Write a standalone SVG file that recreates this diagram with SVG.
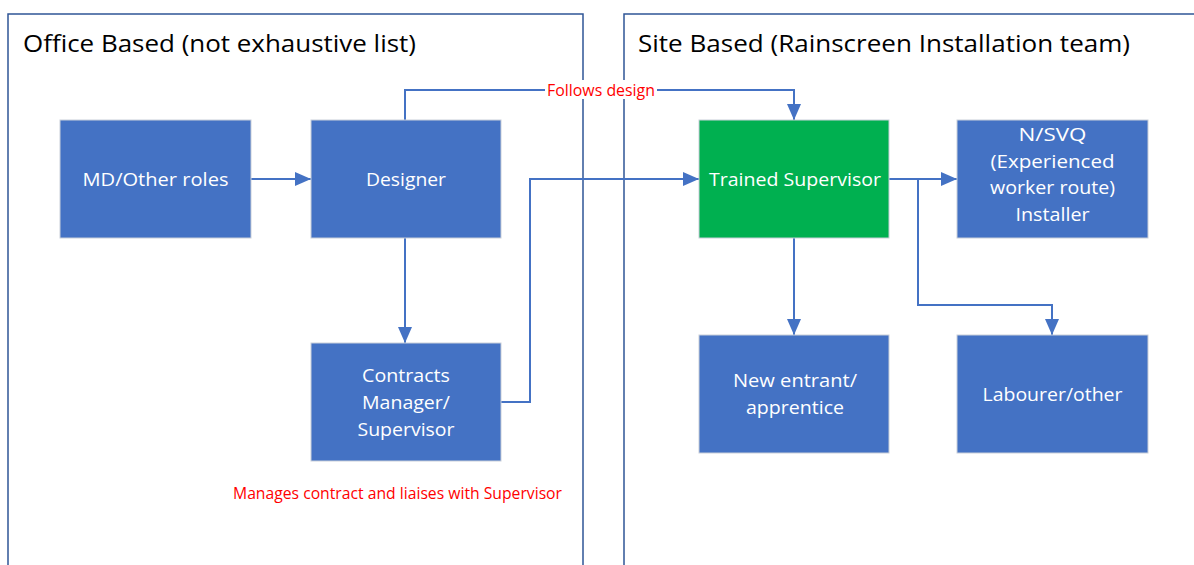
<svg xmlns="http://www.w3.org/2000/svg" width="1194" height="565" viewBox="0 0 1194 565">
<style>
.panel{fill:none;stroke:#2F5597;stroke-width:1.5}
.title{font-family:"Open Sans","Liberation Sans",sans-serif;font-size:23.5px;fill:#000}
.box{fill:#4472C4;stroke:#C9CFD9;stroke-width:1}
.green{fill:#00B050;stroke:#C9CFD9;stroke-width:1}
.lbl{font-family:"Open Sans","Liberation Sans",sans-serif;font-size:18px;fill:#fff;text-anchor:middle}
.conn{fill:none;stroke:#4472C4;stroke-width:2}
.red{font-family:"Open Sans","Liberation Sans",sans-serif;font-size:15.5px;fill:#FF0000}
</style>
<defs>
<marker id="a" viewBox="0 0 16 14" refX="16" refY="7" markerWidth="16" markerHeight="14" markerUnits="userSpaceOnUse" orient="auto">
<path d="M0,0 L16,7 L0,14 z" fill="#4472C4"/>
</marker>
</defs>
<rect width="1194" height="565" fill="#fff"/>
<g id="panels">
<path class="panel" d="M8,570 L8,14 L583,14 L583,570"/>
<path class="panel" d="M624,570 L624,14 L1200,14"/>
<text class="title" x="23" y="52" textLength="393" lengthAdjust="spacingAndGlyphs">Office Based (not exhaustive list)</text>
<text class="title" x="638" y="52" textLength="492" lengthAdjust="spacingAndGlyphs">Site Based (Rainscreen Installation team)</text>
</g>
<g id="connectors">
<path class="conn" d="M251,179 L311,179" marker-end="url(#a)"/>
<path class="conn" d="M405,238 L405,343" marker-end="url(#a)"/>
<path class="conn" d="M405,120 L405,90 L794,90 L794,120" marker-end="url(#a)"/>
<path class="conn" d="M501,402 L530,402 L530,179 L699,179" marker-end="url(#a)"/>
<path class="conn" d="M889,179 L957,179" marker-end="url(#a)"/>
<path class="conn" d="M918,179 L918,305 L1052,305 L1052,335" marker-end="url(#a)"/>
<path class="conn" d="M794,238 L794,335" marker-end="url(#a)"/>
<rect x="545" y="80" width="112" height="19" fill="#fff"/>
<text class="red" x="547" y="96" textLength="108" lengthAdjust="spacingAndGlyphs">Follows design</text>
<text class="red" x="233" y="499" textLength="329" lengthAdjust="spacingAndGlyphs">Manages contract and liaises with Supervisor</text>
</g>
<g id="md">
<rect class="box" x="60" y="120" width="191" height="118"/>
<text class="lbl" x="155.5" y="186" textLength="146" lengthAdjust="spacingAndGlyphs">MD/Other roles</text>
</g>
<g id="designer">
<rect class="box" x="311" y="120" width="190" height="118"/>
<text class="lbl" x="406" y="186" textLength="80" lengthAdjust="spacingAndGlyphs">Designer</text>
</g>
<g id="contracts">
<rect class="box" x="311" y="343" width="190" height="118"/>
<text class="lbl" x="406" y="382" textLength="88" lengthAdjust="spacingAndGlyphs">Contracts</text>
<text class="lbl" x="406" y="409" textLength="88" lengthAdjust="spacingAndGlyphs">Manager/</text>
<text class="lbl" x="406" y="436" textLength="97" lengthAdjust="spacingAndGlyphs">Supervisor</text>
</g>
<g id="trained">
<rect class="green" x="699" y="120" width="190" height="118"/>
<text class="lbl" x="795" y="186" textLength="172" lengthAdjust="spacingAndGlyphs">Trained Supervisor</text>
</g>
<g id="nsvq">
<rect class="box" x="957" y="120" width="191" height="118"/>
<text class="lbl" x="1052.5" y="141" textLength="68" lengthAdjust="spacingAndGlyphs">N/SVQ</text>
<text class="lbl" x="1052.5" y="168" textLength="124" lengthAdjust="spacingAndGlyphs">(Experienced</text>
<text class="lbl" x="1052.5" y="194" textLength="125" lengthAdjust="spacingAndGlyphs">worker route)</text>
<text class="lbl" x="1052.5" y="221" textLength="74" lengthAdjust="spacingAndGlyphs">Installer</text>
</g>
<g id="newentrant">
<rect class="box" x="699" y="335" width="190" height="118"/>
<text class="lbl" x="795" y="387" textLength="124" lengthAdjust="spacingAndGlyphs">New entrant/</text>
<text class="lbl" x="795" y="414" textLength="98" lengthAdjust="spacingAndGlyphs">apprentice</text>
</g>
<g id="labourer">
<rect class="box" x="957" y="335" width="191" height="118"/>
<text class="lbl" x="1052.5" y="401" textLength="140" lengthAdjust="spacingAndGlyphs">Labourer/other</text>
</g>
</svg>
